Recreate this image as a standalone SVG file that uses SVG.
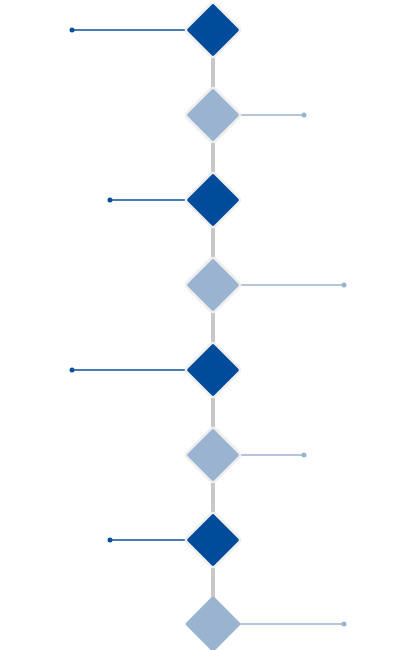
<svg xmlns="http://www.w3.org/2000/svg" width="416" height="650" viewBox="0 0 416 650">
<defs>
<style>
.spine{stroke:#c8c8c8;stroke-width:4;fill:none}
.ld{stroke:#0a4f9c;stroke-width:1.5;fill:none}
.ll{stroke:#9ab3d1;stroke-width:1.5;fill:none}
.dd{fill:#0a4f9c}
.dl{fill:#9ab3d1}
.nd{fill:#004c9a;stroke:#eeeeee;stroke-width:2.5}
.nl{fill:#9ab3d1;stroke:#eeeeee;stroke-width:2.5}
.nl0{fill:#9ab3d1}
</style>
<rect id="dia" x="-20" y="-20" width="40" height="40" rx="3" transform="rotate(45)"/>
</defs>
<rect width="416" height="650" fill="#ffffff"/>
<g id="connectors">
<line class="spine" x1="213" y1="30" x2="213" y2="624"/>
<line class="ld" x1="72" y1="30" x2="213" y2="30"/><circle class="dd" cx="72" cy="30" r="2.5"/>
<line class="ll" x1="213" y1="115" x2="304" y2="115"/><circle class="dl" cx="304" cy="115" r="2.5"/>
<line class="ld" x1="110" y1="200" x2="213" y2="200"/><circle class="dd" cx="110" cy="200" r="2.5"/>
<line class="ll" x1="213" y1="285" x2="344" y2="285"/><circle class="dl" cx="344" cy="285" r="2.5"/>
<line class="ld" x1="72" y1="370" x2="213" y2="370"/><circle class="dd" cx="72" cy="370" r="2.5"/>
<line class="ll" x1="213" y1="455" x2="304" y2="455"/><circle class="dl" cx="304" cy="455" r="2.5"/>
<line class="ld" x1="110" y1="540" x2="213" y2="540"/><circle class="dd" cx="110" cy="540" r="2.5"/>
<line class="ll" x1="213" y1="624" x2="344" y2="624"/><circle class="dl" cx="344" cy="624" r="2.5"/>
</g>
<g id="node1" transform="translate(213 30)"><use href="#dia" class="nd"/></g>
<g id="node2" transform="translate(213 115)"><use href="#dia" class="nl"/></g>
<g id="node3" transform="translate(213 200)"><use href="#dia" class="nd"/></g>
<g id="node4" transform="translate(213 285)"><use href="#dia" class="nl"/></g>
<g id="node5" transform="translate(213 370)"><use href="#dia" class="nd"/></g>
<g id="node6" transform="translate(213 455)"><use href="#dia" class="nl"/></g>
<g id="node7" transform="translate(213 540)"><use href="#dia" class="nd"/></g>
<g id="node8" transform="translate(213 624)"><use href="#dia" class="nl0"/></g>
</svg>
